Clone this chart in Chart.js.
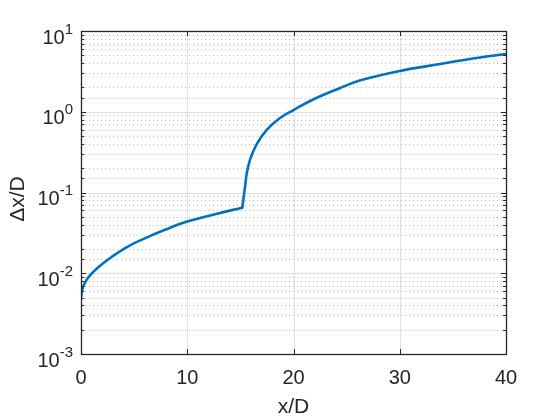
<!DOCTYPE html>
<html>
<head>
<meta charset="utf-8">
<script src="https://cdn.jsdelivr.net/npm/chart.js@4.4.0/dist/chart.umd.min.js"></script>
<style>
  html, body { margin: 0; padding: 0; background: #fff; }
</style>
</head>
<body>
<canvas id="chart" width="560" height="420"></canvas>
<script>
// values, split at the kink (x = 15.18)
var xBefore = [0, 0.2, 0.66, 1.6, 2.85, 4.4, 6, 7.9, 10, 12.8, 15.18];
var dxBefore = [0.0051, 0.0068, 0.0088, 0.0118, 0.0158, 0.0214, 0.027, 0.0345, 0.0436, 0.0545, 0.0649];
var xAfter = [15.18, 15.44, 15.6, 15.9, 16.5, 17.5, 18.7, 20, 21.9, 24.4, 26.3, 30, 33.8, 36.6, 40];
var dxAfter = [0.0649, 0.118, 0.173, 0.252, 0.39, 0.6, 0.83, 1.05, 1.43, 1.97, 2.45, 3.2, 3.9, 4.5, 5.19];
var xLimits = [0, 40];
var yLimits = [0.001, 10];
var xTitle = 'x/D';
var yTitle = 'Δx/D';

var lineColor = '#0072BD';
var textColor = '#262626';
var fontName = '"Liberation Sans", Arial, sans-serif';

function toPoints(xs, ys) {
    return xs.map(function (x, i) { return { x: x, y: ys[i] }; });
}

function isDecade(v) {
    var l = Math.log10(v);
    return Math.abs(l - Math.round(l)) < 1e-9;
}

// MATLAB-like box, grid, ticks and labels drawn from the chart scales
var matlabAxes = {
    id: 'matlabAxes',
    beforeDatasetsDraw: function (chart) {
        var ctx = chart.ctx, a = chart.chartArea;
        var xs = chart.scales.x, ys = chart.scales.y;
        ctx.save();
        ctx.lineWidth = 1;
        // minor dotted grid
        ctx.strokeStyle = '#b8b8b8';
        ctx.setLineDash([1, 3]);
        ys.ticks.forEach(function (t) {
            if (isDecade(t.value)) return;
            var py = Math.round(ys.getPixelForValue(t.value)) + 0.5;
            ctx.beginPath();
            ctx.moveTo(a.left, py);
            ctx.lineTo(a.right, py);
            ctx.stroke();
        });
        ctx.setLineDash([]);
        // major grid
        ctx.strokeStyle = '#dfdfdf';
        ys.ticks.forEach(function (t) {
            if (!isDecade(t.value)) return;
            var py = Math.round(ys.getPixelForValue(t.value)) + 0.5;
            ctx.beginPath();
            ctx.moveTo(a.left, py);
            ctx.lineTo(a.right, py);
            ctx.stroke();
        });
        xs.ticks.forEach(function (t) {
            var px = Math.round(xs.getPixelForValue(t.value)) + 0.5;
            ctx.beginPath();
            ctx.moveTo(px, a.top);
            ctx.lineTo(px, a.bottom);
            ctx.stroke();
        });
        ctx.restore();
    },
    afterDatasetsDraw: function (chart) {
        var ctx = chart.ctx, a = chart.chartArea;
        var xs = chart.scales.x, ys = chart.scales.y;
        ctx.save();
        ctx.strokeStyle = textColor;
        ctx.lineWidth = 1.3;
        ctx.strokeRect(Math.round(a.left) + 0.5, Math.round(a.top) + 0.5,
            Math.round(a.right - a.left), Math.round(a.bottom - a.top));
        ctx.lineWidth = 1;
        // y ticks, inward on both sides
        ys.ticks.forEach(function (t) {
            var py = Math.round(ys.getPixelForValue(t.value)) + 0.5;
            var len = isDecade(t.value) ? 5 : 3;
            ctx.beginPath();
            ctx.moveTo(a.left, py); ctx.lineTo(a.left + len, py);
            ctx.moveTo(a.right, py); ctx.lineTo(a.right - len, py);
            ctx.stroke();
        });
        // x ticks, inward top and bottom
        xs.ticks.forEach(function (t) {
            var px = Math.round(xs.getPixelForValue(t.value)) + 0.5;
            ctx.beginPath();
            ctx.moveTo(px, a.bottom); ctx.lineTo(px, a.bottom - 5);
            ctx.moveTo(px, a.top); ctx.lineTo(px, a.top + 5);
            ctx.stroke();
        });

        ctx.fillStyle = textColor;
        // x tick labels
        ctx.font = '20px ' + fontName;
        ctx.textAlign = 'center';
        ctx.textBaseline = 'alphabetic';
        xs.ticks.forEach(function (t) {
            ctx.fillText(String(t.value), xs.getPixelForValue(t.value), a.bottom + 29.5);
        });
        // y tick labels as 10^n
        ctx.textAlign = 'left';
        ys.ticks.forEach(function (t) {
            if (!isDecade(t.value)) return;
            var py = ys.getPixelForValue(t.value);
            var expText = String(Math.round(Math.log10(t.value)));
            ctx.font = '15px ' + fontName;
            var ew = ctx.measureText(expText).width;
            ctx.font = '20px ' + fontName;
            var bw = ctx.measureText('10').width;
            var right = a.left - 8;
            ctx.fillText('10', right - ew - bw, py + 12.5);
            ctx.font = '15px ' + fontName;
            ctx.fillText(expText, right - ew, py + 2.5);
        });
        // axis titles
        ctx.font = '21px ' + fontName;
        ctx.textAlign = 'center';
        ctx.fillText(xTitle, (a.left + a.right) / 2, 413);
        ctx.save();
        ctx.translate(24, 199);
        ctx.rotate(-Math.PI / 2);
        ctx.fillText(yTitle, 0, 0);
        ctx.restore();
        ctx.restore();
    }
};

var lineStyle = {
    borderColor: lineColor,
    borderWidth: 2.6,
    borderCapStyle: 'round',
    borderJoinStyle: 'round',
    pointRadius: 0,
    fill: false,
    tension: 0.4
};

var ctx = document.getElementById('chart').getContext('2d');
var chart = new Chart(ctx, {
    type: 'line',
    data: {
        datasets: [
            Object.assign({ data: toPoints(xBefore, dxBefore) }, lineStyle),
            Object.assign({ data: toPoints(xAfter, dxAfter) }, lineStyle)
        ]
    },
    options: {
        responsive: false,
        animation: false,
        events: [],
        layout: { padding: { left: 0, right: 54, top: 31, bottom: 0 } },
        plugins: { legend: { display: false }, tooltip: { enabled: false } },
        scales: {
            x: {
                type: 'linear',
                min: xLimits[0],
                max: xLimits[1],
                ticks: { stepSize: 10, display: false },
                grid: { display: false },
                border: { display: false },
                afterFit: function (s) { s.height = 66; }
            },
            y: {
                type: 'logarithmic',
                min: yLimits[0],
                max: yLimits[1],
                ticks: { display: false },
                grid: { display: false },
                border: { display: false },
                afterFit: function (s) { s.width = 81; }
            }
        }
    },
    plugins: [matlabAxes]
});
</script>
</body>
</html>
